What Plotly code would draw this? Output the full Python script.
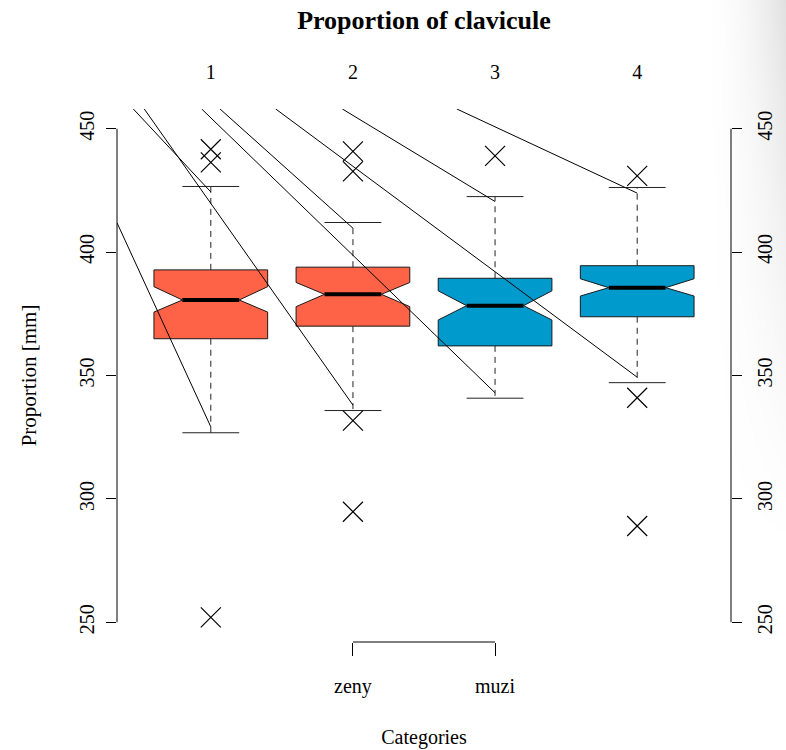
import base64
import struct
import zlib

import plotly.graph_objects as go

# ---------------- data ----------------
categories = ["1", "2", "3", "4"]
box_groups = ["zeny", "zeny", "muzi", "muzi"]
group_labels = ["zeny", "muzi"]
group_label_pos = [2, 3]
box_colors = ["#FF6347", "#FF6347", "#009ACD", "#009ACD"]

whisker_low = [326.8, 335.8, 340.8, 347.1]
q1 = [364.9, 370.0, 362.0, 373.8]
median = [380.6, 382.9, 378.3, 385.6]
q3 = [392.8, 393.9, 389.4, 394.5]
whisker_high = [426.6, 412.0, 422.5, 426.2]
notch_low = [375.7, 377.9, 372.5, 382.2]
notch_high = [386.0, 387.7, 384.3, 389.2]
outliers = [
    [441.7, 436.4, 252.0],
    [440.8, 432.7, 331.7, 294.8],
    [439.0],
    [430.9, 341.0, 289.0],
]

# stray straight lines present in the original chart (data units)
line_start_x = [0.455, 0.34, 1.065, 0.532, 1.926, 0.936, 2.731, 1.457]
line_start_y = [458.0, 411.9, 458.0, 458.0, 458.0, 458.0, 458.0, 458.0]
line_end_x = [1, 1, 2, 2, 3, 3, 4, 4]
line_end_y = [424.4, 329.2, 409.7, 338.0, 420.5, 343.0, 423.9, 349.3]

y_ticks = [250, 300, 350, 400, 450]
x_range = [0.34, 4.66]
y_range = [242, 458]

FONT = "Liberation Serif"
HALF = 0.4   # half box width
W, H = 786, 750
ML, MR, MT, MB = 117, 55, 109, 108
PW, PH = W - ML - MR, H - MT - MB

fig = go.Figure()

# ---------------- boxes ----------------
for i, cat in enumerate(categories):
    c = i + 1
    xs = [c - HALF, c - HALF, c - HALF / 2, c - HALF, c - HALF,
          c + HALF, c + HALF, c + HALF / 2, c + HALF, c + HALF, c - HALF]
    ys = [q1[i], notch_low[i], median[i], notch_high[i], q3[i],
          q3[i], notch_high[i], median[i], notch_low[i], q1[i], q1[i]]
    fig.add_trace(go.Scatter(x=xs, y=ys, mode="lines", fill="toself",
                             fillcolor=box_colors[i],
                             line=dict(color="#1a1a1a", width=1),
                             hoverinfo="skip", showlegend=False))
    fig.add_trace(go.Scatter(x=[c, c, None, c, c],
                             y=[q3[i], whisker_high[i], None, q1[i], whisker_low[i]],
                             mode="lines",
                             line=dict(color="#222222", width=1, dash="6px,5px"),
                             hoverinfo="skip", showlegend=False))
    fig.add_trace(go.Scatter(x=[c - HALF / 2, c + HALF / 2, None, c - HALF / 2, c + HALF / 2],
                             y=[whisker_high[i], whisker_high[i], None, whisker_low[i], whisker_low[i]],
                             mode="lines", line=dict(color="#222222", width=1),
                             hoverinfo="skip", showlegend=False))
    fig.add_trace(go.Scatter(x=[c - HALF / 2, c + HALF / 2], y=[median[i], median[i]],
                             mode="lines", line=dict(color="black", width=4),
                             hoverinfo="skip", showlegend=False))
    fig.add_trace(go.Scatter(x=[c] * len(outliers[i]), y=outliers[i], mode="markers",
                             marker=dict(symbol="x-thin", size=20,
                                         line=dict(color="black", width=1.2)),
                             hoverinfo="skip", showlegend=False))

# ---------------- stray lines ----------------
lx, ly = [], []
for x0, y0, x1, y1 in zip(line_start_x, line_start_y, line_end_x, line_end_y):
    lx += [x0, x1, None]
    ly += [y0, y1, None]
fig.add_trace(go.Scatter(x=lx, y=ly, mode="lines",
                         line=dict(color="black", width=1),
                         hoverinfo="skip", showlegend=False))

fig.add_trace(go.Scatter(x=[None], y=[None], xaxis="x2", yaxis="y", showlegend=False))
fig.add_trace(go.Scatter(x=[None], y=[None], xaxis="x", yaxis="y2", showlegend=False))

shapes = []
shapes.append(dict(type="line", xref="paper", yref="y", x0=0, x1=0,
                   y0=y_ticks[0], y1=y_ticks[-1], line=dict(color="black", width=1)))
shapes.append(dict(type="line", xref="paper", yref="y", x0=1, x1=1,
                   y0=y_ticks[0], y1=y_ticks[-1], line=dict(color="black", width=1)))
shapes.append(dict(type="line", xref="x", yref="paper", x0=group_label_pos[0],
                   x1=group_label_pos[-1], y0=0, y1=0, line=dict(color="black", width=1)))


# ---------------- soft page shadow at right edge (generated gradient image) ----------------
def gradient_png(w, h):
    rows = []
    for yy in range(h):
        v = yy / h
        g = max(0.0, 1 - v / 0.75) ** 1.4
        row = bytearray([0])
        for xx in range(w):
            u = xx / (w - 1)
            d = 0.12 * (u ** 2.0) * g
            row.append(int(round(255 * (1 - d))))
        rows.append(bytes(row))
    raw = b"".join(rows)

    def chunk(tag, data):
        return (struct.pack(">I", len(data)) + tag + data
                + struct.pack(">I", zlib.crc32(tag + data) & 0xFFFFFFFF))

    png = b"\x89PNG\r\n\x1a\n"
    png += chunk(b"IHDR", struct.pack(">IIBBBBB", w, h, 8, 0, 0, 0, 0))
    png += chunk(b"IDAT", zlib.compress(raw, 9))
    png += chunk(b"IEND", b"")
    return "data:image/png;base64," + base64.b64encode(png).decode()


SH_LEFT = 700
sh_w = W - SH_LEFT
fig.add_layout_image(dict(
    source=gradient_png(sh_w, H), xref="paper", yref="paper",
    x=(SH_LEFT - ML) / PW, y=(H - MB) / PH,
    sizex=sh_w / PW, sizey=H / PH, sizing="stretch",
    xanchor="left", yanchor="top", layer="below"))

fig.update_layout(
    width=W, height=H,
    margin=dict(l=ML, r=MR, t=MT, b=MB, autoexpand=False),
    paper_bgcolor="white", plot_bgcolor="rgba(0,0,0,0)",
    font=dict(family=FONT, color="black", size=18),
    title=dict(text="<b>Proportion of clavicule</b>", x=0.5, xref="paper",
               y=1 - 20 / H, yref="container", yanchor="middle", xanchor="center",
               font=dict(family=FONT, size=26, color="black")),
    xaxis=dict(range=x_range, side="top", tickmode="array",
               tickvals=[i + 1 for i in range(len(categories))], ticktext=categories,
               ticks="", showline=False, showgrid=False, zeroline=False,
               tickfont=dict(size=20), ticklabelstandoff=25, automargin=False),
    xaxis2=dict(range=x_range, overlaying="x", side="bottom", anchor="y",
                tickmode="array", tickvals=group_label_pos, ticktext=group_labels,
                ticks="outside", ticklen=13, tickcolor="black", tickwidth=1,
                showline=False, showgrid=False, zeroline=False,
                tickfont=dict(size=20), ticklabelstandoff=13, automargin=False,
                title=dict(text="Categories", font=dict(size=20), standoff=32)),
    yaxis=dict(range=y_range, tickmode="array", tickvals=y_ticks,
               ticks="outside", ticklen=10, tickcolor="black", tickwidth=1,
               tickangle=-90, showline=False, showgrid=False, zeroline=False,
               tickfont=dict(size=20), ticklabelstandoff=4, automargin=False,
               title=dict(text="Proportion [mm]", font=dict(size=21), standoff=33)),
    yaxis2=dict(range=y_range, overlaying="y", side="right", anchor="x",
                tickmode="array", tickvals=y_ticks,
                ticks="outside", ticklen=10, tickcolor="black", tickwidth=1,
                tickangle=-90, showline=False, showgrid=False, zeroline=False,
                tickfont=dict(size=20), ticklabelstandoff=6, automargin=False),
    shapes=shapes,
    showlegend=False,
)

fig.write_html("out.html")
